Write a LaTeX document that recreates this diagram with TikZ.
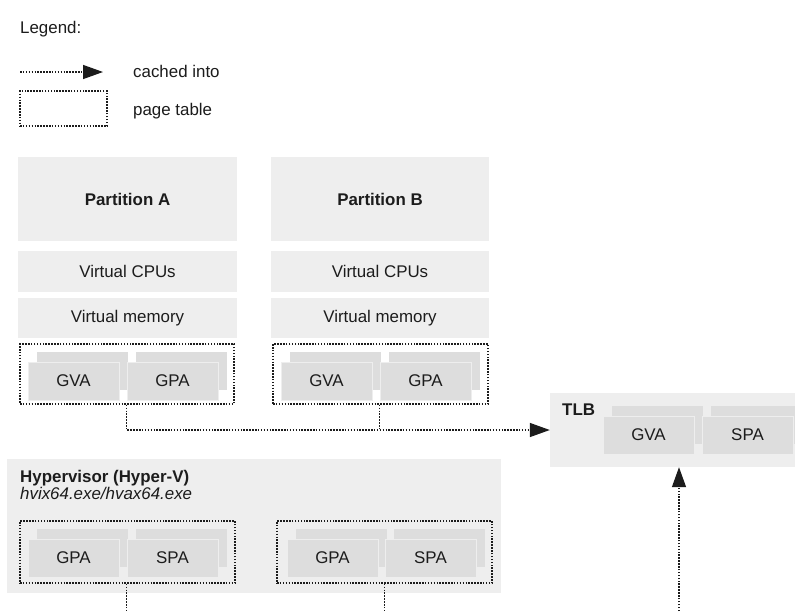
\documentclass[tikz,border=0pt]{standalone}
\usepackage{fontspec}
\setmainfont{Liberation Sans}
\usetikzlibrary{arrows.meta}
\definecolor{panel}{HTML}{EEEEEE}
\definecolor{cell}{HTML}{DDDDDD}
\definecolor{ink}{HTML}{1C1C1C}
\newcommand\dsize{\fontsize{16.9}{20}\selectfont}
% a filled or outlined rectangle given by its corners, with a centred text
\newcommand\rbox[7][]{\node[#1, minimum width={(#5-#3)*1pt}, minimum height={(#6-#4)*1pt}] (#2) at ({(#3+#5)/2},{(#4+#6)/2}) {#7};}
% two page-table entries side by side, each with a shadow copy behind it
\newcommand\mpair[7]{%
  \fill[cell] ({#3+9},{#5-10}) rectangle ++(91,38);
  \fill[cell] ({#4+9},{#5-10}) rectangle ++(91,38);
  \node[cellfront] (#1) at ({#3+45.5},{#5+19}) {#6};
  \node[cellfront] (#2) at ({#4+45.5},{#5+19}) {#7};}
\tikzset{
  panel/.style={fill=panel, inner sep=0, text=ink, font=\dsize},
  title/.style={panel, font=\dsize\bfseries},
  cellfront/.style={fill=cell, draw=panel, line width=0.8pt, minimum width=91pt,
    minimum height=38pt, inner sep=0, text=ink, font=\dsize},
  pagetable/.style={draw=ink, line width=1.4pt, dash pattern=on 1.5pt off 1.4pt, inner sep=0},
  dotline/.style={draw=ink, line width=1.4pt, dash pattern=on 1.5pt off 1.4pt},
  cached/.style={dotline, -{Triangle[length=20pt,width=14pt]}},
  label/.style={text=ink, inner sep=0, anchor=base west, font=\dsize},
}
\begin{document}
\begin{tikzpicture}[x=1pt,y=-1pt]
\path[use as bounding box, clip] (0,0) rectangle (795,611);
\fill[white] (0,0) rectangle (795,611);

% legend
\node[label] (legend) at (20,33) {Legend:};
\coordinate (lgA) at (20,72);
\coordinate (lgB) at (103,72);
\draw[cached] (lgA) -- (lgB);
\node[label] (lgcached) at (133,77) {cached into};
\rbox[pagetable]{lgpt}{20}{91}{107}{126}{}
\node[label] (lgpage) at (133,115) {page table};

% partition A
\rbox[title]{partA}{18}{157}{237}{241}{Partition A}
\rbox[panel]{cpuA}{18}{251}{237}{292}{Virtual CPUs}
\rbox[panel]{vmemA}{18}{298}{237}{338}{Virtual memory}
\rbox[pagetable]{ptA}{20}{344}{234}{404}{}
\mpair{gvaA}{gpaA}{28}{127}{362}{GVA}{GPA}

% partition B
\rbox[title]{partB}{271}{157}{489}{241}{Partition B}
\rbox[panel]{cpuB}{271}{251}{489}{292}{Virtual CPUs}
\rbox[panel]{vmemB}{271}{298}{489}{338}{Virtual memory}
\rbox[pagetable]{ptB}{273}{344}{488}{404}{}
\mpair{gvaB}{gpaB}{281}{380}{362}{GVA}{GPA}

% TLB
\rbox[panel]{tlb}{550}{393}{815}{467}{}
\node[label, font=\dsize\bfseries] (tlbname) at (562,415) {TLB};
\mpair{tgva}{tspa}{603}{702}{416}{GVA}{SPA}

% hypervisor
\rbox[panel]{hyp}{7}{459}{501}{593}{}
\node[label, font=\dsize\bfseries] (hypname) at (20,482) {Hypervisor (Hyper-V)};
\node[label, font=\dsize\itshape] (hypfile) at (20,499) {hvix64.exe/hvax64.exe};
\rbox[pagetable]{hpt1}{20}{521}{235}{583}{}
\mpair{hgpa1}{hspa1}{28}{127}{539}{GPA}{SPA}
\rbox[pagetable]{hpt2}{277}{521}{492}{583}{}
\mpair{hgpa2}{hspa2}{287}{385}{539}{GPA}{SPA}

% connectors
\draw[cached] (ptA.south -| gpaA.west) |- (tlb.west);
\draw[dotline] (ptB.south -| gpaB.west) -- (gpaB.west |- tlb.west);
\coordinate (floor) at (0,611);
\draw[dotline] (hpt1.south -| hspa1.west) -- (hspa1.west |- floor);
\draw[dotline] (hpt2.south -| hspa2.west) -- (hspa2.west |- floor);
\coordinate (tlbfeed) at (679,611);
\draw[cached] (tlbfeed) -- (tlbfeed |- tlb.south);
\end{tikzpicture}
\end{document}
